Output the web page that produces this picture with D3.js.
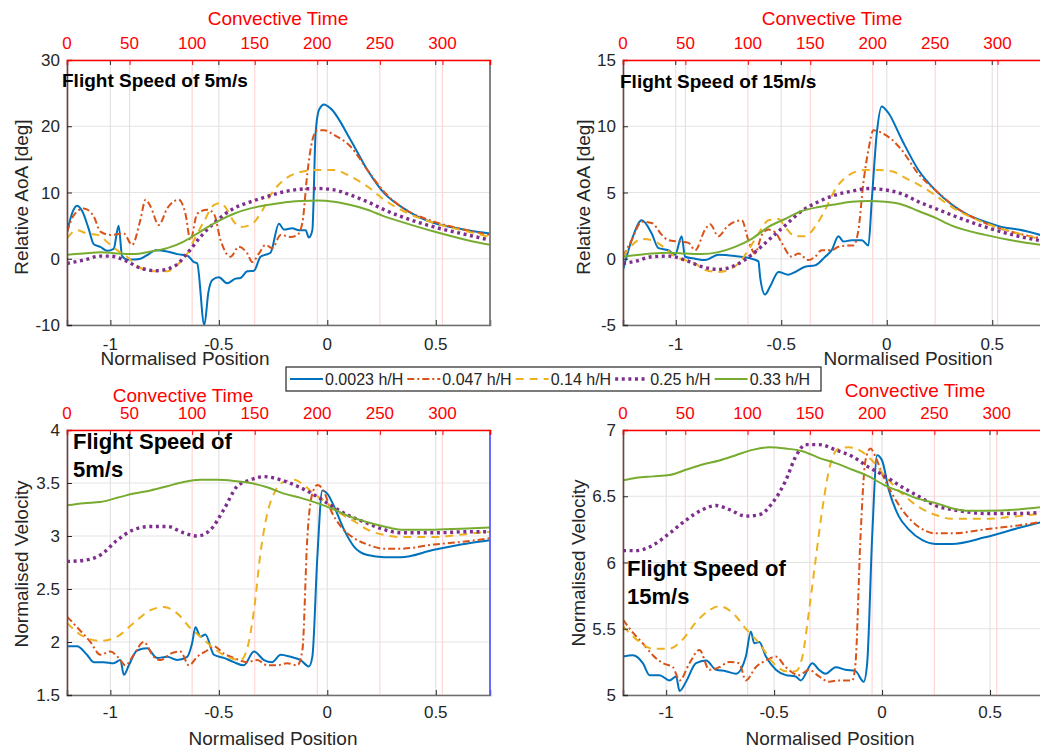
<!DOCTYPE html>
<html>
<head>
<meta charset="utf-8">
<script src="https://cdn.jsdelivr.net/npm/d3@7"></script>
<style>
  body { margin: 0; background: #fff; }
  svg { display: block; font-family: "Liberation Sans", Arial, sans-serif; }
</style>
</head>
<body>
<div id="chart"></div>
<script>
// series labels
const seriesNames = ["0.0023 h/H", "0.047 h/H", "0.14 h/H", "0.25 h/H", "0.33 h/H"];
const convTicks = [0, 50, 100, 150, 200, 250, 300];
const posTicks = [-1, -0.5, 0, 0.5];
const aoaTicks5 = [-10, 0, 10, 20, 30];
const aoaTicks15 = [-5, 0, 5, 10, 15];
const velTicks5 = [1.5, 2, 2.5, 3, 3.5, 4];
const velTicks15 = [5, 5.5, 6, 6.5, 7];

/* Relative AoA, 5 m/s : [normalised position, deg] */
const aoa5_a = [[-1.2,4.0],[-1.175,7.0],[-1.154,8.0],[-1.13,7.2],[-1.1,4.5],[-1.077,2.2],[-1.046,1.8],[-1.015,1.2],[-0.985,1.5],[-0.962,5.0],[-0.946,0.4],[-0.923,-0.1],[-0.885,-0.1],[-0.862,0.0],[-0.823,0.7],[-0.792,1.3],[-0.738,1.1],[-0.692,0.7],[-0.646,0.5],[-0.615,-0.5],[-0.6,-0.7],[-0.567,-10],[-0.548,-5],[-0.53,-3.2],[-0.5,-2.8],[-0.462,-3.7],[-0.423,-3.0],[-0.4,-2.9],[-0.369,-1.9],[-0.338,-1.8],[-0.308,0.3],[-0.262,0.9],[-0.223,5.3],[-0.2,4.4],[-0.162,4.6],[-0.131,4.3],[-0.1,4.3],[-0.085,3.2],[-0.069,4.3],[-0.054,18.9],[-0.038,22.5],[-0.015,23.3],[0.015,22.7],[0.108,17.9],[0.185,13.4],[0.262,9.9],[0.338,7.9],[0.415,6.4],[0.492,5.4],[0.569,4.8],[0.646,4.3],[0.75,3.8]];
const aoa5_b = [[-1.2,4.0],[-1.17,6.5],[-1.123,7.6],[-1.077,6.4],[-1.046,4.1],[-1.0,3.6],[-0.938,3.8],[-0.9,2.1],[-0.862,5.8],[-0.838,8.9],[-0.815,7.9],[-0.777,5.1],[-0.738,7.6],[-0.685,8.9],[-0.654,6.8],[-0.631,2.8],[-0.6,6.8],[-0.554,7.4],[-0.523,6.8],[-0.492,2.8],[-0.446,0.3],[-0.408,1.8],[-0.369,0.8],[-0.346,-0.5],[-0.315,0.8],[-0.285,2.1],[-0.254,1.6],[-0.215,3.6],[-0.169,3.3],[-0.138,3.6],[-0.115,5.4],[-0.092,12.9],[-0.069,17.9],[-0.046,19.4],[-0.015,19.4],[0.031,18.7],[0.108,16.9],[0.185,13.4],[0.262,10.1],[0.338,7.9],[0.492,5.6],[0.646,4.3],[0.75,3.6]];
const aoa5_c = [[-1.2,3.1],[-1.154,4.3],[-1.108,3.8],[-1.06,3.6],[-1.0,2.1],[-0.969,1.3],[-0.923,0.3],[-0.862,-1.4],[-0.785,-1.9],[-0.738,-1.9],[-0.692,-0.9],[-0.654,0.3],[-0.615,2.8],[-0.569,5.6],[-0.523,8.1],[-0.492,8.4],[-0.462,7.4],[-0.431,5.6],[-0.4,4.8],[-0.354,5.1],[-0.308,6.8],[-0.262,9.6],[-0.2,11.9],[-0.123,13.1],[-0.046,13.4],[0.031,13.4],[0.108,12.4],[0.185,10.9],[0.262,8.9],[0.338,7.4],[0.492,5.4],[0.646,4.1],[0.75,3.3]];
const aoa5_d = [[-1.2,-0.7],[-1.123,-0.2],[-1.046,0.4],[-1.0,0.4],[-0.923,-0.4],[-0.862,-1.4],[-0.785,-1.8],[-0.708,-1.2],[-0.646,0.8],[-0.585,3.3],[-0.508,5.8],[-0.431,7.6],[-0.354,8.6],[-0.277,9.4],[-0.2,10.1],[-0.123,10.5],[-0.046,10.6],[0.031,10.4],[0.108,9.6],[0.185,8.6],[0.262,7.4],[0.338,6.4],[0.492,4.8],[0.646,3.6],[0.75,2.8]];
const aoa5_e = [[-1.2,0.6],[-1.123,0.8],[-1.046,1.0],[-0.969,0.8],[-0.892,0.7],[-0.815,1.1],[-0.738,1.6],[-0.662,2.6],[-0.585,4.1],[-0.508,5.6],[-0.431,6.8],[-0.354,7.6],[-0.277,8.1],[-0.2,8.5],[-0.123,8.7],[-0.046,8.8],[0.031,8.6],[0.108,8.1],[0.185,7.4],[0.262,6.4],[0.338,5.6],[0.492,4.1],[0.646,2.8],[0.75,2.1]];

/* Relative AoA, 15 m/s */
const aoa15_a = [[-1.25,-0.85],[-1.209,1.4],[-1.161,2.9],[-1.114,1.9],[-1.082,0.8],[-1.035,0.65],[-1.003,0.3],[-0.972,1.7],[-0.956,0.15],[-0.908,0.0],[-0.861,-0.1],[-0.798,0.3],[-0.719,0.2],[-0.64,0.0],[-0.608,-0.2],[-0.6,-1.4],[-0.577,-2.7],[-0.553,-2.1],[-0.513,-1.0],[-0.466,-1.2],[-0.434,-1.0],[-0.387,-0.6],[-0.34,-0.5],[-0.292,0.15],[-0.261,0.65],[-0.229,1.7],[-0.205,1.3],[-0.166,1.4],[-0.118,1.4],[-0.087,1.0],[-0.071,4.4],[-0.047,9.5],[-0.024,11.5],[0.008,11.0],[0.071,9.0],[0.15,6.7],[0.229,5.2],[0.308,4.1],[0.387,3.3],[0.466,2.8],[0.545,2.4],[0.624,2.2],[0.75,1.7]];
const aoa15_b = [[-1.25,0.15],[-1.209,1.4],[-1.161,2.8],[-1.114,2.7],[-1.066,1.8],[-1.035,1.4],[-0.987,1.3],[-0.94,1.2],[-0.908,0.65],[-0.861,2.2],[-0.837,2.6],[-0.798,1.7],[-0.758,2.4],[-0.719,2.8],[-0.687,2.9],[-0.656,1.4],[-0.624,0.4],[-0.592,1.8],[-0.561,2.2],[-0.529,2.0],[-0.498,1.2],[-0.45,0.15],[-0.419,0.4],[-0.371,-0.1],[-0.34,0.15],[-0.308,0.65],[-0.261,0.65],[-0.229,0.9],[-0.182,1.0],[-0.158,1.0],[-0.134,2.2],[-0.111,5.7],[-0.087,8.2],[-0.063,9.7],[-0.024,9.5],[0.024,9.0],[0.071,8.2],[0.15,6.4],[0.229,5.2],[0.308,4.1],[0.466,2.7],[0.624,1.9],[0.75,1.5]];
const aoa15_c = [[-1.25,0.15],[-1.209,1.0],[-1.161,1.5],[-1.114,1.4],[-1.051,0.8],[-1.003,0.15],[-0.956,-0.1],[-0.908,-0.35],[-0.861,-0.85],[-0.798,-1.0],[-0.75,-0.85],[-0.703,-0.35],[-0.656,0.65],[-0.608,1.9],[-0.561,2.9],[-0.513,3.0],[-0.482,2.4],[-0.434,1.7],[-0.387,1.7],[-0.34,2.4],[-0.292,3.7],[-0.245,5.2],[-0.182,6.3],[-0.103,6.7],[-0.039,6.7],[0.024,6.6],[0.087,6.1],[0.15,5.6],[0.229,4.8],[0.308,3.9],[0.466,2.7],[0.624,1.9],[0.75,1.4]];
const aoa15_d = [[-1.25,-0.35],[-1.193,-0.2],[-1.114,0.15],[-1.035,0.2],[-0.956,-0.1],[-0.877,-0.6],[-0.798,-0.8],[-0.719,-0.5],[-0.64,0.3],[-0.561,1.4],[-0.482,2.5],[-0.403,3.6],[-0.324,4.3],[-0.245,4.8],[-0.166,5.1],[-0.087,5.3],[-0.008,5.2],[0.071,4.9],[0.15,4.3],[0.229,3.8],[0.308,3.3],[0.466,2.4],[0.624,1.7],[0.75,1.3]];
const aoa15_e = [[-1.25,0.15],[-1.114,0.4],[-1.035,0.45],[-0.956,0.4],[-0.877,0.35],[-0.798,0.5],[-0.719,0.9],[-0.64,1.5],[-0.561,2.4],[-0.482,3.0],[-0.403,3.6],[-0.324,3.9],[-0.245,4.1],[-0.166,4.3],[-0.087,4.35],[-0.008,4.3],[0.071,4.1],[0.15,3.6],[0.229,3.1],[0.308,2.5],[0.466,1.8],[0.624,1.3],[0.75,1.0]];

/* Normalised velocity, 5 m/s */
const vel5_a = [[-1.2,1.96],[-1.154,1.96],[-1.108,1.88],[-1.077,1.81],[-1.031,1.81],[-0.985,1.8],[-0.954,1.83],[-0.938,1.69],[-0.915,1.78],[-0.877,1.92],[-0.831,1.94],[-0.785,1.85],[-0.738,1.86],[-0.692,1.83],[-0.646,1.86],[-0.623,1.99],[-0.608,2.14],[-0.585,2.05],[-0.562,2.07],[-0.523,1.88],[-0.477,1.85],[-0.431,1.81],[-0.385,1.78],[-0.338,1.91],[-0.292,1.83],[-0.254,1.81],[-0.215,1.88],[-0.169,1.86],[-0.123,1.83],[-0.085,1.77],[-0.069,1.86],[-0.046,2.8],[-0.023,3.43],[0,3.4],[0.031,3.28],[0.077,3.06],[0.123,2.9],[0.185,2.82],[0.262,2.8],[0.338,2.8],[0.492,2.87],[0.646,2.93],[0.75,2.96]];
const vel5_b = [[-1.2,2.24],[-1.154,2.14],[-1.092,2.0],[-1.046,1.88],[-1.0,1.91],[-0.962,1.85],[-0.931,1.78],[-0.892,1.88],[-0.846,2.0],[-0.8,1.86],[-0.769,1.83],[-0.723,1.89],[-0.677,1.91],[-0.638,1.78],[-0.6,1.86],[-0.554,1.92],[-0.523,1.96],[-0.477,1.89],[-0.431,1.85],[-0.369,1.81],[-0.323,1.83],[-0.277,1.78],[-0.231,1.78],[-0.185,1.8],[-0.138,1.78],[-0.115,1.92],[-0.092,2.99],[-0.069,3.4],[-0.046,3.48],[-0.015,3.42],[0.015,3.25],[0.062,3.09],[0.123,2.98],[0.185,2.92],[0.262,2.88],[0.338,2.88],[0.492,2.92],[0.646,2.95],[0.75,2.98]];
const vel5_c = [[-1.2,2.18],[-1.123,2.05],[-1.046,2.01],[-0.969,2.05],[-0.892,2.18],[-0.815,2.3],[-0.754,2.33],[-0.692,2.27],[-0.631,2.13],[-0.585,2.05],[-0.523,1.94],[-0.462,1.86],[-0.4,1.83],[-0.369,1.94],[-0.338,2.3],[-0.308,2.84],[-0.277,3.21],[-0.246,3.4],[-0.2,3.51],[-0.154,3.53],[-0.108,3.48],[-0.062,3.4],[0,3.31],[0.062,3.21],[0.123,3.14],[0.185,3.06],[0.262,3.01],[0.338,2.99],[0.492,2.99],[0.646,3.02],[0.75,3.04]];
const vel5_d = [[-1.2,2.76],[-1.123,2.77],[-1.046,2.82],[-0.969,2.96],[-0.892,3.06],[-0.815,3.09],[-0.738,3.09],[-0.662,3.03],[-0.6,3.0],[-0.538,3.06],[-0.477,3.25],[-0.415,3.47],[-0.354,3.53],[-0.292,3.56],[-0.215,3.53],[-0.138,3.47],[-0.062,3.39],[0.015,3.29],[0.092,3.2],[0.185,3.12],[0.262,3.06],[0.338,3.03],[0.492,3.03],[0.646,3.04],[0.75,3.04]];
const vel5_e = [[-1.2,3.29],[-1.123,3.31],[-1.046,3.32],[-0.969,3.36],[-0.892,3.4],[-0.815,3.43],[-0.738,3.47],[-0.662,3.51],[-0.585,3.53],[-0.508,3.53],[-0.431,3.52],[-0.354,3.5],[-0.277,3.46],[-0.2,3.4],[-0.123,3.36],[-0.046,3.31],[0.031,3.25],[0.108,3.18],[0.185,3.13],[0.262,3.09],[0.338,3.06],[0.492,3.06],[0.646,3.07],[0.75,3.08]];

/* Normalised velocity, 15 m/s */
const vel15_a = [[-1.2,5.29],[-1.154,5.3],[-1.108,5.24],[-1.077,5.15],[-1.031,5.15],[-0.985,5.11],[-0.954,5.14],[-0.938,5.03],[-0.908,5.1],[-0.862,5.24],[-0.815,5.26],[-0.769,5.19],[-0.723,5.18],[-0.677,5.16],[-0.631,5.29],[-0.608,5.48],[-0.592,5.39],[-0.569,5.4],[-0.538,5.29],[-0.492,5.19],[-0.446,5.15],[-0.4,5.14],[-0.377,5.11],[-0.323,5.24],[-0.292,5.19],[-0.262,5.16],[-0.215,5.21],[-0.169,5.19],[-0.123,5.18],[-0.085,5.1],[-0.069,5.24],[-0.046,6.19],[-0.023,6.81],[0,6.77],[0.031,6.55],[0.077,6.35],[0.123,6.25],[0.185,6.17],[0.246,6.14],[0.323,6.14],[0.477,6.19],[0.631,6.26],[0.75,6.31]];
const vel15_b = [[-1.2,5.57],[-1.154,5.47],[-1.108,5.39],[-1.062,5.3],[-1.015,5.24],[-0.969,5.21],[-0.938,5.11],[-0.892,5.24],[-0.846,5.34],[-0.8,5.19],[-0.754,5.21],[-0.708,5.25],[-0.662,5.24],[-0.631,5.11],[-0.585,5.21],[-0.538,5.26],[-0.492,5.29],[-0.446,5.21],[-0.385,5.15],[-0.338,5.19],[-0.292,5.14],[-0.246,5.1],[-0.2,5.11],[-0.138,5.11],[-0.123,5.24],[-0.1,6.19],[-0.077,6.77],[-0.054,6.86],[-0.031,6.8],[0,6.67],[0.046,6.52],[0.092,6.4],[0.169,6.27],[0.246,6.22],[0.323,6.22],[0.477,6.25],[0.631,6.28],[0.75,6.31]];
const vel15_c = [[-1.2,5.52],[-1.138,5.42],[-1.062,5.35],[-0.985,5.35],[-0.923,5.42],[-0.862,5.55],[-0.8,5.64],[-0.754,5.67],[-0.692,5.62],[-0.631,5.5],[-0.569,5.39],[-0.508,5.25],[-0.446,5.18],[-0.4,5.18],[-0.369,5.29],[-0.338,5.64],[-0.308,6.02],[-0.277,6.4],[-0.238,6.75],[-0.2,6.86],[-0.154,6.87],[-0.108,6.85],[-0.046,6.77],[0.015,6.65],[0.092,6.52],[0.169,6.42],[0.246,6.36],[0.323,6.33],[0.477,6.33],[0.631,6.35],[0.75,6.37]];
const vel15_d = [[-1.2,6.09],[-1.138,6.09],[-1.062,6.13],[-0.985,6.22],[-0.908,6.32],[-0.831,6.4],[-0.769,6.43],[-0.708,6.4],[-0.631,6.35],[-0.569,6.36],[-0.508,6.45],[-0.446,6.62],[-0.4,6.8],[-0.354,6.89],[-0.292,6.89],[-0.215,6.85],[-0.138,6.8],[-0.062,6.72],[0.015,6.65],[0.092,6.57],[0.169,6.5],[0.246,6.43],[0.323,6.4],[0.4,6.38],[0.477,6.37],[0.631,6.37],[0.75,6.38]];
const vel15_e = [[-1.2,6.62],[-1.138,6.64],[-1.062,6.65],[-0.985,6.66],[-0.908,6.7],[-0.831,6.74],[-0.754,6.77],[-0.677,6.81],[-0.6,6.85],[-0.523,6.87],[-0.446,6.86],[-0.369,6.84],[-0.292,6.79],[-0.215,6.75],[-0.138,6.7],[-0.062,6.65],[0.015,6.58],[0.092,6.53],[0.169,6.48],[0.246,6.45],[0.323,6.41],[0.4,6.39],[0.477,6.39],[0.631,6.4],[0.75,6.42]];

const colors = ["#0072BD", "#D95319", "#EDB120", "#7E2F8E", "#77AC30"];
const dashes = [null, "7,3,2,3", "8,6", "3,3.6", null];
const widths = [2, 2, 2, 3.4, 2];
const ink = "#262626";

const svg = d3.select("#chart").append("svg").attr("width", 1040).attr("height", 751);

const panels = [
  { left: 67, top: 60, w: 423, h: 265, xDom: [-1.2, 0.75], yDom: [-10, 30], yTicks: aoaTicks5,
    ylabel: "Relative AoA [deg]", ylx: 21, yly: 197, ctx: 278, cty: 25, cky: 49, ptx: 185, pty: 365, pky: 350,
    right: "#777", note: ["Flight Speed of 5m/s"], nx: 62, ny: 87, ns: 19, lh: 0,
    series: [aoa5_a, aoa5_b, aoa5_c, aoa5_d, aoa5_e] },
  { left: 623, top: 60, w: 422, h: 265, xDom: [-1.25, 0.75], yDom: [-5, 15], yTicks: aoaTicks15,
    ylabel: "Relative AoA [deg]", ylx: 583, yly: 197, ctx: 832, cty: 25, cky: 49, ptx: 908, pty: 365, pky: 350,
    right: "#777", note: ["Flight Speed of 15m/s"], nx: 620, ny: 88, ns: 19, lh: 0,
    series: [aoa15_a, aoa15_b, aoa15_c, aoa15_d, aoa15_e] },
  { left: 67, top: 430, w: 423, h: 265, xDom: [-1.2, 0.75], yDom: [1.5, 4], yTicks: velTicks5,
    ylabel: "Normalised Velocity", ylx: 21, yly: 564, ctx: 183, cty: 402, cky: 419, ptx: 273, pty: 745, pky: 718,
    right: "#5a5aff", note: ["Flight Speed of", "5m/s"], nx: 73, ny: 449, ns: 22, lh: 28,
    series: [vel5_a, vel5_b, vel5_c, vel5_d, vel5_e] },
  { left: 623, top: 430, w: 421, h: 265, xDom: [-1.2, 0.75], yDom: [5, 7], yTicks: velTicks15,
    ylabel: "Normalised Velocity", ylx: 578, yly: 563, ctx: 915, cty: 397, cky: 419, ptx: 830, pty: 745, pky: 718,
    right: "#777", note: ["Flight Speed of", "15m/s"], nx: 627, ny: 576, ns: 22, lh: 28,
    series: [vel15_a, vel15_b, vel15_c, vel15_d, vel15_e] },
];

panels.forEach((p, pi) => {
  const x = d3.scaleLinear().domain(p.xDom).range([p.left, p.left + p.w]);
  const y = d3.scaleLinear().domain(p.yDom).range([p.top + p.h, p.top]);
  const xc = d3.scaleLinear().domain([0, 338]).range([p.left, p.left + p.w]);
  const g = svg.append("g");

  g.append("clipPath").attr("id", "clip" + pi)
    .append("rect").attr("x", p.left).attr("y", p.top).attr("width", p.w).attr("height", p.h);

  /* Grid */
  g.append("g").selectAll("line").data(p.yTicks).join("line")
    .attr("x1", p.left).attr("x2", p.left + p.w)
    .attr("y1", (d) => y(d)).attr("y2", (d) => y(d))
    .attr("stroke", "#e3e3e3").attr("stroke-width", 1.2);
  g.append("g").selectAll("line").data(posTicks).join("line")
    .attr("x1", (d) => x(d)).attr("x2", (d) => x(d))
    .attr("y1", p.top).attr("y2", p.top + p.h)
    .attr("stroke", "#e3e3e3").attr("stroke-width", 1.2);
  g.append("g").selectAll("line").data(convTicks).join("line")
    .attr("x1", (d) => xc(d)).attr("x2", (d) => xc(d))
    .attr("y1", p.top).attr("y2", p.top + p.h)
    .attr("stroke", "#ffd6d6").attr("stroke-width", 1.2);

  /* Lines */
  const line = d3.line().x((d) => x(d[0])).y((d) => y(d[1])).curve(d3.curveMonotoneX);
  g.append("g").attr("clip-path", `url(#clip${pi})`)
    .selectAll("path").data(p.series).join("path")
    .attr("d", line)
    .attr("fill", "none")
    .attr("stroke", (d, i) => colors[i])
    .attr("stroke-width", (d, i) => widths[i])
    .attr("stroke-dasharray", (d, i) => dashes[i])
    .attr("stroke-linejoin", "round");

  /* Bottom / left axes */
  g.append("g")
    .attr("transform", `translate(0,${p.top + p.h})`)
    .call(d3.axisBottom(x).tickValues(posTicks).tickSize(-5).tickPadding(12).tickFormat((d) => String(d)))
    .call((a) => a.select(".domain").attr("stroke", "#6e6e6e").attr("stroke-width", 1.6))
    .call((a) => a.selectAll(".tick line").attr("stroke", ink))
    .call((a) => a.selectAll("text").remove());
  g.append("g").selectAll("text").data(posTicks).join("text")
    .attr("x", (d) => x(d)).attr("y", p.pky)
    .attr("text-anchor", "middle").attr("font-size", 17).attr("fill", ink)
    .text((d) => String(d));

  g.append("g")
    .attr("transform", `translate(${p.left},0)`)
    .call(d3.axisLeft(y).tickValues(p.yTicks).tickSize(-5).tickFormat(""))
    .call((a) => a.select(".domain").attr("stroke", "#5a4a4a").attr("stroke-width", 1.6))
    .call((a) => a.selectAll(".tick line").attr("stroke", ink));
  g.append("g").selectAll("text").data(p.yTicks).join("text")
    .attr("x", p.left - 7).attr("y", (d) => y(d) + 6)
    .attr("text-anchor", "end").attr("font-size", 17).attr("fill", ink)
    .text((d) => String(d));

  /* mirrored ticks on top */
  g.append("g").selectAll("line").data(posTicks).join("line")
    .attr("x1", (d) => x(d)).attr("x2", (d) => x(d))
    .attr("y1", p.top).attr("y2", p.top + 5)
    .attr("stroke", ink);

  /* Right border */
  g.append("line")
    .attr("x1", p.left + p.w).attr("x2", p.left + p.w)
    .attr("y1", p.top).attr("y2", p.top + p.h)
    .attr("stroke", p.right).attr("stroke-width", 1.8);

  /* Top axis: convective time */
  g.append("g")
    .attr("transform", `translate(0,${p.top})`)
    .call(d3.axisTop(xc).tickValues(convTicks).tickSize(-5).tickFormat(""))
    .call((a) => a.select(".domain").attr("stroke", "#ff0000").attr("stroke-width", 1.6))
    .call((a) => a.selectAll(".tick line").attr("stroke", "#ff0000"));
  g.append("g").selectAll("text").data(convTicks).join("text")
    .attr("x", (d) => xc(d)).attr("y", p.cky)
    .attr("text-anchor", "middle").attr("font-size", 17).attr("fill", "#ff0000")
    .text((d) => d);

  /* Titles */
  g.append("text")
    .attr("x", p.ctx).attr("y", p.cty)
    .attr("text-anchor", "middle").attr("font-size", 19).attr("fill", "#ff0000")
    .text("Convective Time");
  g.append("text")
    .attr("x", p.ptx).attr("y", p.pty)
    .attr("text-anchor", "middle").attr("font-size", 19).attr("fill", ink)
    .text("Normalised Position");
  g.append("text")
    .attr("transform", `translate(${p.ylx + 7},${p.yly}) rotate(-90)`)
    .attr("text-anchor", "middle").attr("font-size", 19).attr("fill", ink)
    .text(p.ylabel);

  /* Annotation */
  g.append("g").selectAll("text").data(p.note).join("text")
    .attr("x", p.nx).attr("y", (d, i) => p.ny + i * p.lh)
    .attr("font-size", p.ns).attr("font-weight", "bold").attr("fill", "#000")
    .text((d) => d);
});

/* Legend */
const legend = svg.append("g");
legend.append("rect")
  .attr("x", 286).attr("y", 367).attr("width", 535).attr("height", 24)
  .attr("fill", "#fff").attr("stroke", ink).attr("stroke-width", 1.2);
let lx = 290;
seriesNames.forEach((name, i) => {
  legend.append("line")
    .attr("x1", lx).attr("x2", lx + 33).attr("y1", 379).attr("y2", 379)
    .attr("stroke", colors[i]).attr("stroke-width", widths[i])
    .attr("stroke-dasharray", dashes[i]);
  const t = legend.append("text")
    .attr("x", lx + 35).attr("y", 385)
    .attr("font-size", 16).attr("fill", ink)
    .text(name);
  lx += 35 + t.node().getComputedTextLength() + 4;
});
</script>
</body>
</html>
